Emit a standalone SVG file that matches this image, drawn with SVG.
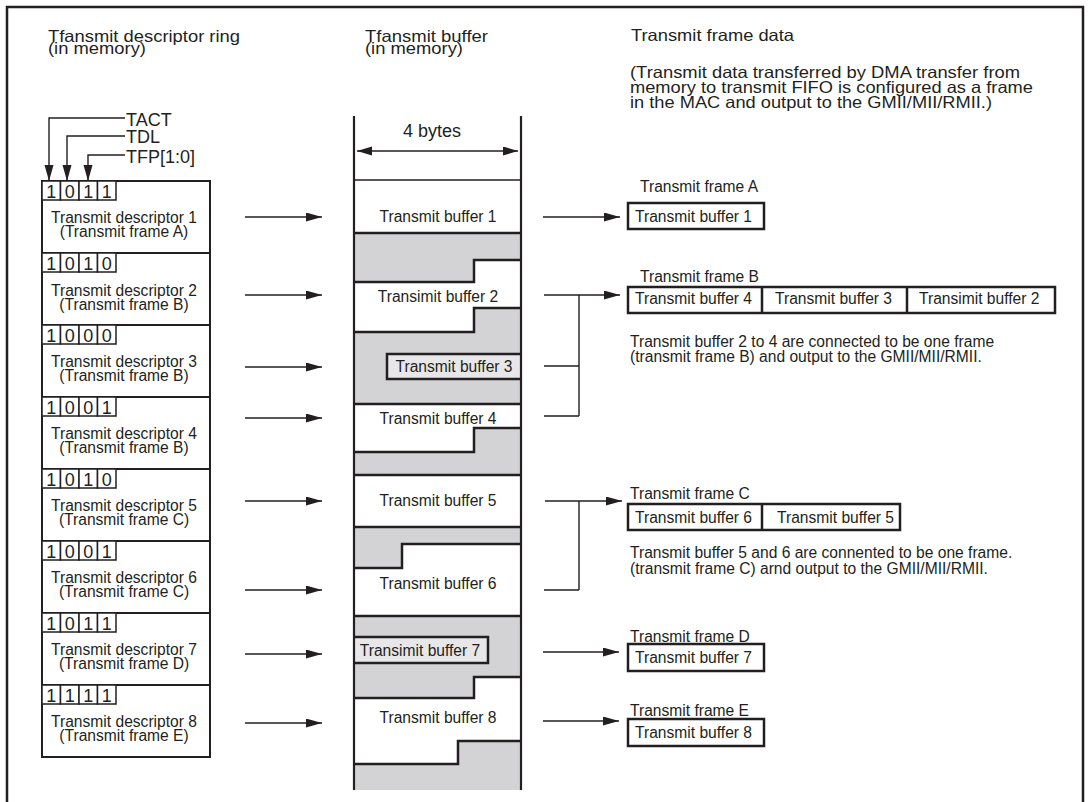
<svg xmlns="http://www.w3.org/2000/svg" width="1091" height="802" viewBox="0 0 1091 802">
<style>
text{font-family:"Liberation Sans",Arial,sans-serif;fill:#231f20}
.t18{font-size:18px}
.ti{font-size:16.5px}
.t15{font-size:15.6px}
.c{text-anchor:middle}
.ln{stroke:#231f20;stroke-width:1.4;fill:none}
.thk{stroke:#231f20;stroke-width:2.5;fill:none}
.box{stroke:#231f20;stroke-width:2;fill:#fff}
.bit{stroke:#231f20;stroke-width:1.5;fill:#fff}
.gray{fill:#d3d3d5;stroke:none}
.inner{fill:#e7e7e9;stroke:none}
.fbox{stroke:#231f20;stroke-width:2.5;fill:#fff}
</style>
<defs>
<marker id="ah" markerUnits="userSpaceOnUse" markerWidth="16" markerHeight="10" refX="16" refY="4.5" orient="auto">
<path d="M0,0 L16,4.5 L0,9 z" fill="#231f20"/>
</marker>
<marker id="ahs" markerUnits="userSpaceOnUse" markerWidth="16" markerHeight="10" refX="15" refY="4.5" orient="auto-start-reverse">
<path d="M0,0 L15,4.5 L0,9 z" fill="#231f20"/>
</marker>
</defs>
<rect width="1091" height="802" fill="#fff"/>
<path d="M7,802 V7 H1083 V802" class="thk"/>

<g id="titles">
<text class="ti" x="48" y="42" textLength="192" lengthAdjust="spacingAndGlyphs">Tfansmit descriptor ring</text>
<text class="ti" x="48" y="54" textLength="98" lengthAdjust="spacingAndGlyphs">(in memory)</text>
<text class="ti" x="365" y="42" textLength="123" lengthAdjust="spacingAndGlyphs">Tfansmit buffer</text>
<text class="ti" x="365" y="54" textLength="98" lengthAdjust="spacingAndGlyphs">(in memory)</text>
<text class="ti" x="631" y="41" textLength="163" lengthAdjust="spacingAndGlyphs">Transmit frame data</text>
<text class="ti" x="630" y="78" textLength="390" lengthAdjust="spacingAndGlyphs">(Transmit data transferred by DMA transfer from</text>
<text class="ti" x="630" y="93" textLength="403" lengthAdjust="spacingAndGlyphs">memory to transmit FIFO is configured as a frame</text>
<text class="ti" x="630" y="108" textLength="362" lengthAdjust="spacingAndGlyphs">in the MAC and output to the GMII/MII/RMII.)</text>
</g>

<g id="field-labels">
<text class="t18" x="126" y="126">TACT</text>
<text class="t18" x="126" y="143">TDL</text>
<text class="t18" x="126" y="163">TFP[1:0]</text>
<path class="ln" d="M125,118 H49 V181" marker-end="url(#ah)"/>
<path class="ln" d="M125,136 H67 V181" marker-end="url(#ah)"/>
<path class="ln" d="M125,155 H88 V181" marker-end="url(#ah)"/>
</g>

<g id="desc1">
<rect class="box" x="42" y="181" width="168" height="72"/>
<rect class="bit" x="42" y="181" width="18.5" height="19"/><rect class="bit" x="60.5" y="181" width="18.5" height="19"/><rect class="bit" x="79" y="181" width="18.5" height="19"/><rect class="bit" x="97.5" y="181" width="18.5" height="19"/>
<text class="t18 c" x="51.2" y="198">1</text><text class="t18 c" x="69.7" y="198">0</text><text class="t18 c" x="88.2" y="198">1</text><text class="t18 c" x="106.7" y="198">1</text>
<text class="t15 c" x="124" y="223">Transmit descriptor 1</text>
<text class="t15 c" x="124" y="237">(Transmit frame A)</text>
</g>
<g id="desc2">
<rect class="box" x="42" y="253" width="168" height="72"/>
<rect class="bit" x="42" y="253" width="18.5" height="19"/><rect class="bit" x="60.5" y="253" width="18.5" height="19"/><rect class="bit" x="79" y="253" width="18.5" height="19"/><rect class="bit" x="97.5" y="253" width="18.5" height="19"/>
<text class="t18 c" x="51.2" y="270">1</text><text class="t18 c" x="69.7" y="270">0</text><text class="t18 c" x="88.2" y="270">1</text><text class="t18 c" x="106.7" y="270">0</text>
<text class="t15 c" x="124" y="296">Transmit descriptor 2</text>
<text class="t15 c" x="124" y="310">(Transmit frame B)</text>
</g>
<g id="desc3">
<rect class="box" x="42" y="325" width="168" height="72"/>
<rect class="bit" x="42" y="325" width="18.5" height="19"/><rect class="bit" x="60.5" y="325" width="18.5" height="19"/><rect class="bit" x="79" y="325" width="18.5" height="19"/><rect class="bit" x="97.5" y="325" width="18.5" height="19"/>
<text class="t18 c" x="51.2" y="342">1</text><text class="t18 c" x="69.7" y="342">0</text><text class="t18 c" x="88.2" y="342">0</text><text class="t18 c" x="106.7" y="342">0</text>
<text class="t15 c" x="124" y="367">Transmit descriptor 3</text>
<text class="t15 c" x="124" y="381">(Transmit frame B)</text>
</g>
<g id="desc4">
<rect class="box" x="42" y="397" width="168" height="72"/>
<rect class="bit" x="42" y="397" width="18.5" height="19"/><rect class="bit" x="60.5" y="397" width="18.5" height="19"/><rect class="bit" x="79" y="397" width="18.5" height="19"/><rect class="bit" x="97.5" y="397" width="18.5" height="19"/>
<text class="t18 c" x="51.2" y="414">1</text><text class="t18 c" x="69.7" y="414">0</text><text class="t18 c" x="88.2" y="414">0</text><text class="t18 c" x="106.7" y="414">1</text>
<text class="t15 c" x="124" y="439">Transmit descriptor 4</text>
<text class="t15 c" x="124" y="453">(Transmit frame B)</text>
</g>
<g id="desc5">
<rect class="box" x="42" y="469" width="168" height="72"/>
<rect class="bit" x="42" y="469" width="18.5" height="19"/><rect class="bit" x="60.5" y="469" width="18.5" height="19"/><rect class="bit" x="79" y="469" width="18.5" height="19"/><rect class="bit" x="97.5" y="469" width="18.5" height="19"/>
<text class="t18 c" x="51.2" y="486">1</text><text class="t18 c" x="69.7" y="486">0</text><text class="t18 c" x="88.2" y="486">1</text><text class="t18 c" x="106.7" y="486">0</text>
<text class="t15 c" x="124" y="511">Transmit descriptor 5</text>
<text class="t15 c" x="124" y="525">(Transmit frame C)</text>
</g>
<g id="desc6">
<rect class="box" x="42" y="541" width="168" height="72"/>
<rect class="bit" x="42" y="541" width="18.5" height="19"/><rect class="bit" x="60.5" y="541" width="18.5" height="19"/><rect class="bit" x="79" y="541" width="18.5" height="19"/><rect class="bit" x="97.5" y="541" width="18.5" height="19"/>
<text class="t18 c" x="51.2" y="558">1</text><text class="t18 c" x="69.7" y="558">0</text><text class="t18 c" x="88.2" y="558">0</text><text class="t18 c" x="106.7" y="558">1</text>
<text class="t15 c" x="124" y="583">Transmit descriptor 6</text>
<text class="t15 c" x="124" y="597">(Transmit frame C)</text>
</g>
<g id="desc7">
<rect class="box" x="42" y="613" width="168" height="72"/>
<rect class="bit" x="42" y="613" width="18.5" height="19"/><rect class="bit" x="60.5" y="613" width="18.5" height="19"/><rect class="bit" x="79" y="613" width="18.5" height="19"/><rect class="bit" x="97.5" y="613" width="18.5" height="19"/>
<text class="t18 c" x="51.2" y="630">1</text><text class="t18 c" x="69.7" y="630">0</text><text class="t18 c" x="88.2" y="630">1</text><text class="t18 c" x="106.7" y="630">1</text>
<text class="t15 c" x="124" y="655">Transmit descriptor 7</text>
<text class="t15 c" x="124" y="669">(Transmit frame D)</text>
</g>
<g id="desc8">
<rect class="box" x="42" y="685" width="168" height="72"/>
<rect class="bit" x="42" y="685" width="18.5" height="19"/><rect class="bit" x="60.5" y="685" width="18.5" height="19"/><rect class="bit" x="79" y="685" width="18.5" height="19"/><rect class="bit" x="97.5" y="685" width="18.5" height="19"/>
<text class="t18 c" x="51.2" y="702">1</text><text class="t18 c" x="69.7" y="702">1</text><text class="t18 c" x="88.2" y="702">1</text><text class="t18 c" x="106.7" y="702">1</text>
<text class="t15 c" x="124" y="727">Transmit descriptor 8</text>
<text class="t15 c" x="124" y="741">(Transmit frame E)</text>
</g>

<g id="buffer-column">
<polygon class="gray" points="354,233 521,233 521,260 474,260 474,282 354,282"/>
<polygon class="gray" points="354,332 474,332 474,308 521,308 521,404 354,404"/>
<rect class="inner" x="387" y="354" width="134" height="25"/>
<polygon class="gray" points="354,452 474,452 474,428 521,428 521,475 354,475"/>
<polygon class="gray" points="354,527 521,527 521,544 402,544 402,568 354,568"/>
<polygon class="gray" points="354,616 521,616 521,677 474,677 474,698 354,698"/>
<rect class="inner" x="354" y="637" width="134" height="26"/>
<polygon class="gray" points="354,764 458,764 458,741 521,741 521,790 354,790"/>
<path class="thk" d="M354,233 H521 M521,260 H474 V282 H354 M354,332 H474 V308 H521 M521,354 H387 V379 H521 M354,404 H521 M521,428 H474 V452 H354 M354,475 H521 M354,527 H521 M521,544 H402 V568 H354 M354,616 H521 M354,637 H488 V663 H354 M521,677 H474 V698 H354 M354,764 H458 V741 H521"/>
<path class="ln" d="M354,180 H521"/>
<path d="M354,116 V790 M521,116 V790" stroke="#231f20" stroke-width="2.2" fill="none"/>
<path class="ln" d="M357,151 H518" marker-start="url(#ahs)" marker-end="url(#ahs)"/>
<text class="t18 c" x="432" y="137">4 bytes</text>
<text class="t15 c" x="438" y="222">Transmit buffer 1</text>
<text class="t15 c" x="438" y="302">Transimit buffer 2</text>
<text class="t15 c" x="454" y="372">Transmit buffer 3</text>
<text class="t15 c" x="438" y="424">Transmit buffer 4</text>
<text class="t15 c" x="438" y="506">Transmit buffer 5</text>
<text class="t15 c" x="438" y="589">Transmit buffer 6</text>
<text class="t15 c" x="420" y="656">Transimit buffer 7</text>
<text class="t15 c" x="438" y="723">Transmit buffer 8</text>
</g>

<g id="connectors">
<path class="ln" d="M245,217 H322" marker-end="url(#ah)"/>
<path class="ln" d="M245,295 H322" marker-end="url(#ah)"/>
<path class="ln" d="M245,367 H322" marker-end="url(#ah)"/>
<path class="ln" d="M245,418 H322" marker-end="url(#ah)"/>
<path class="ln" d="M245,501 H322" marker-end="url(#ah)"/>
<path class="ln" d="M245,590 H322" marker-end="url(#ah)"/>
<path class="ln" d="M245,654 H322" marker-end="url(#ah)"/>
<path class="ln" d="M245,723 H322" marker-end="url(#ah)"/>
<path class="ln" d="M543,217 H620" marker-end="url(#ah)"/>
<path class="ln" d="M544,295 H620" marker-end="url(#ah)"/>
<path class="ln" d="M579,295 V416 M544,366 H579 M544,416 H579"/>
<path class="ln" d="M545,501 H622" marker-end="url(#ah)"/>
<path class="ln" d="M579,501 V590 M544,590 H579"/>
<path class="ln" d="M543,652 H619" marker-end="url(#ah)"/>
<path class="ln" d="M543,721 H619" marker-end="url(#ah)"/>
</g>

<g id="frameA">
<text class="t15" x="640" y="192">Transmit frame A</text>
<rect class="fbox" x="628" y="203" width="136" height="26"/>
<text class="t15" x="635" y="222">Transmit buffer 1</text>
</g>
<g id="frameB">
<text class="t15" x="640" y="282">Transmit frame B</text>
<rect class="fbox" x="628" y="287" width="427" height="26"/>
<path class="thk" d="M762,287 V313 M907,287 V313"/>
<text class="t15" x="635" y="304">Transmit buffer 4</text>
<text class="t15" x="775" y="304">Transmit buffer 3</text>
<text class="t15" x="919" y="304">Transimit buffer 2</text>
<text class="t15" x="630" y="347">Transmit buffer 2 to 4 are connected to be one frame</text>
<text class="t15" x="630" y="362">(transmit frame B) and output to the GMII/MII/RMII.</text>
</g>
<g id="frameC">
<text class="t15" x="630" y="499">Transmit frame C</text>
<rect class="fbox" x="628" y="504" width="272" height="26"/>
<path class="thk" d="M762,504 V530"/>
<text class="t15" x="635" y="523">Transmit buffer 6</text>
<text class="t15" x="777" y="523">Transmit buffer 5</text>
<text class="t15" x="630" y="558">Transmit buffer 5 and 6 are connented to be one frame.</text>
<text class="t15" x="630" y="574">(transmit frame C) arnd output to the GMII/MII/RMII.</text>
</g>
<g id="frameD">
<text class="t15" x="630" y="642">Transmit frame D</text>
<rect class="fbox" x="628" y="644" width="136" height="27"/>
<text class="t15" x="635" y="663">Transmit buffer 7</text>
</g>
<g id="frameE">
<text class="t15" x="630" y="716">Transmit frame E</text>
<rect class="fbox" x="628" y="719" width="136" height="27"/>
<text class="t15" x="635" y="738">Transmit buffer 8</text>
</g>
</svg>
